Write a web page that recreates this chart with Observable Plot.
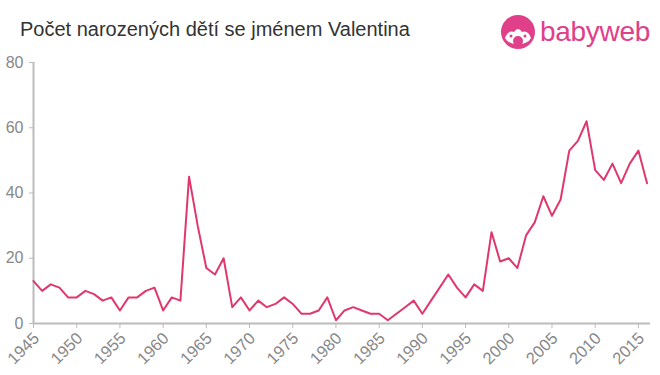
<!DOCTYPE html>
<html>
<head>
<meta charset="utf-8">
<script src="https://cdn.jsdelivr.net/npm/d3@7"></script>
<script src="https://cdn.jsdelivr.net/npm/@observablehq/plot@0.6"></script>
<style>
  html, body { margin: 0; padding: 0; background: #fff; }
  #wrap { position: relative; width: 660px; height: 375px; font-family: "Liberation Sans", Arial, sans-serif; }
  #title { position: absolute; left: 20px; top: 18px; font-size: 20px; color: #333; white-space: nowrap; }
  #logo { position: absolute; left: 500px; top: 14px; display: flex; align-items: center; }
  #logo span { font-family: "Liberation Sans", Arial, sans-serif; font-size: 28px; color: #e0408a; margin-left: 4px; letter-spacing: -0.3px; }
  #chart { position: absolute; left: 0; top: 0; }
</style>
</head>
<body>
<div id="wrap">
  <div id="chart"></div>
  <div id="title">Počet narozených dětí se jménem Valentina</div>
  <div id="logo">
    <svg width="36" height="36" viewBox="0 0 36 36">
      <circle cx="18" cy="18" r="17" fill="#e0408a"/>
      <path d="M5 24 Q8 16 14 18 Q18 12 22 18 Q28 16 31 24 Q28 30 18 30 Q8 30 5 24 Z" fill="#fff"/>
      <circle cx="18" cy="27" r="5" fill="#e0408a"/>
      <circle cx="11" cy="22" r="1.5" fill="#e0408a"/>
      <circle cx="25" cy="22" r="1.5" fill="#e0408a"/>
    </svg>
    <span>babyweb</span>
  </div>
</div>
<script>
const years = d3.range(1945, 2017);
const counts = [
  13, 10, 12, 11, 8, 8, 10, 9, 7, 8,      // 1945-1954
  4, 8, 8, 10, 11, 4, 8, 7, 45, 30,       // 1955-1964
  17, 15, 20, 5, 8, 4, 7, 5, 6, 8,        // 1965-1974
  6, 3, 3, 4, 8, 1, 4, 5, 4, 3,           // 1975-1984
  3, 1, 3, 5, 7, 3, 7, 11, 15, 11,        // 1985-1994
  8, 12, 10, 28, 19, 20, 17, 27, 31, 39,  // 1995-2004
  33, 38, 53, 56, 62, 47, 44, 49, 43, 49, // 2005-2014
  53, 43                                  // 2015-2016
];
const xTicks = d3.range(1945, 2016, 5);
const yTicks = [0, 20, 40, 60, 80];

const data = years.map((y, i) => ({year: y, value: counts[i]}));

const chart = Plot.plot({
  width: 660,
  height: 375,
  marginTop: 62,
  marginBottom: 52,
  marginLeft: 33,
  marginRight: 10,
  style: { fontFamily: "Liberation Sans, Arial, sans-serif", background: "transparent" },
  x: { domain: [1945, 2016.4], label: null },
  y: { domain: [0, 80], label: null },
  marks: [
    Plot.axisY({ ticks: yTicks, tickSize: 4, tickPadding: 6, fontSize: 16, color: "#888", stroke: "#bbb", label: null }),
    Plot.axisX({ ticks: xTicks, tickFormat: () => "", tickSize: 5, stroke: "#bbb", label: null }),
    Plot.text(xTicks, { x: d => d, y: 0, text: d => String(d), rotate: -45, textAnchor: "end", dx: 3, dy: 12, fontSize: 16.5, fill: "#888" }),
    Plot.ruleX([1945], { stroke: "#bbb", strokeWidth: 2 }),
    Plot.ruleY([0], { stroke: "#bbb", strokeWidth: 2 }),
    Plot.line(data, { x: "year", y: "value", stroke: "#e0386c", strokeWidth: 2 })
  ]
});
document.getElementById("chart").appendChild(chart);
</script>
</body>
</html>
